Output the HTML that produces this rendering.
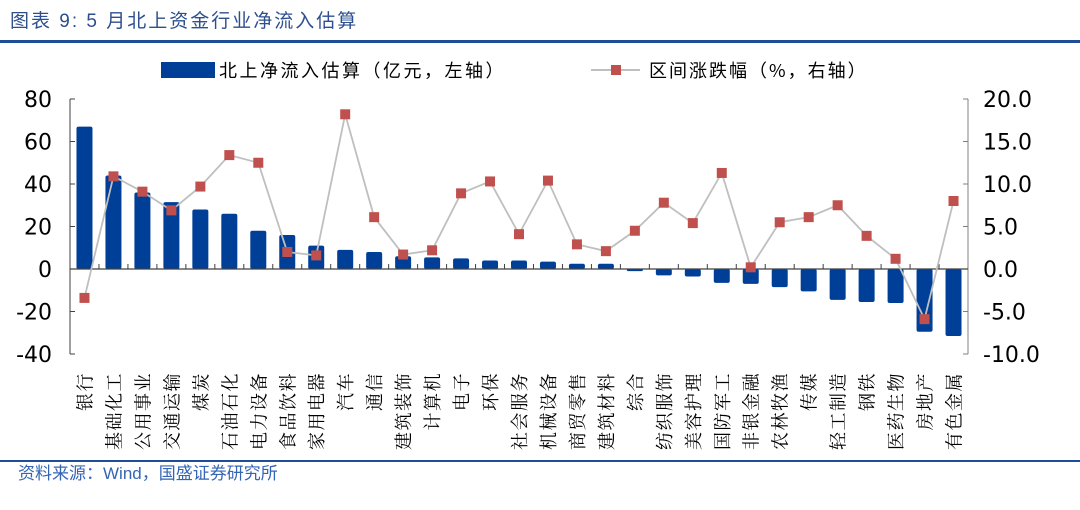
<!DOCTYPE html>
<html><head><meta charset="utf-8"><style>
html,body{margin:0;padding:0;background:#fff;}
body{width:1080px;height:505px;overflow:hidden;font-family:"Liberation Sans","Noto Sans CJK SC",sans-serif;}
</style></head><body>
<svg id="chart" width="1080" height="505" xmlns="http://www.w3.org/2000/svg">
<text x="10" y="27" font-size="19" letter-spacing="2" fill="#2d4f8e" font-family="Liberation Sans, Noto Sans CJK SC, sans-serif">图表 9:  5 月北上资金行业净流入估算</text>
<rect x="0" y="40" width="1080" height="3" fill="#1f4e99"/>
<g>
<rect x="161" y="62" width="54" height="16" fill="#003f98"/>
<text x="219" y="77" font-size="18" letter-spacing="2.5" fill="#000" font-family="Noto Sans CJK SC, sans-serif">北上净流入估算（亿元，左轴）</text>
<line x1="591" y1="70" x2="640" y2="70" stroke="#bfbfbf" stroke-width="2"/>
<rect x="611" y="65" width="10" height="10" fill="#c0504d"/>
<text x="649" y="77" font-size="18" letter-spacing="2" fill="#000" font-family="Noto Sans CJK SC, sans-serif">区间涨跌幅（%，右轴）</text>
</g>
<g id="plot"></g>
<rect x="0" y="460" width="1080" height="2" fill="#1f4e99"/>
<text x="18" y="479" font-size="17" fill="#3465b5" font-family="Liberation Sans, Noto Sans CJK SC, sans-serif">资料来源：Wind，国盛证券研究所</text>
</svg>
<script>
const categories=["银行","基础化工","公用事业","交通运输","煤炭","石油石化","电力设备","食品饮料","家用电器","汽车","通信","建筑装饰","计算机","电子","环保","社会服务","机械设备","商贸零售","建筑材料","综合","纺织服饰","美容护理","国防军工","非银金融","农林牧渔","传媒","轻工制造","钢铁","医药生物","房地产","有色金属"];
const inflow=[67,44,36,31.5,28,26,18,16,11,9,8,6,5.5,5,4,4,3.5,2.5,2.5,-1,-3,-3.5,-6.5,-7,-8.5,-10.5,-14.5,-15.5,-16,-29.5,-31.5];
const change=[-3.4,10.9,9.1,6.9,9.7,13.4,12.5,2.0,1.6,18.2,6.1,1.7,2.2,8.9,10.3,4.1,10.4,2.9,2.1,4.5,7.8,5.4,11.3,0.2,5.5,6.1,7.5,3.9,1.2,-5.9,8.0];
const leftTicks=[80,60,40,20,0,-20,-40];
const rightTicks=["20.0","15.0","10.0","5.0","0.0","-5.0","-10.0"];
const NS="http://www.w3.org/2000/svg";
const g=document.getElementById('plot');
const X0=70,X1=968,YT=99,YB=354;
const yL=v=>YT+(80-v)/120*(YB-YT);
const yR=v=>YT+(20-v)/30*(YB-YT);
const step=(X1-X0)/categories.length;
const xc=i=>X0+step*(i+0.5);
function mk(t,a){const e=document.createElementNS(NS,t);for(const k in a)e.setAttribute(k,a[k]);g.appendChild(e);return e;}
let e;
e=mk('line',{x1:X0,y1:YT,x2:X0,y2:YB,stroke:'#404040','stroke-width':1});


e=mk('line',{x1:X1,y1:YT,x2:X1,y2:YB,stroke:'#808080','stroke-width':1});


leftTicks.forEach(v=>{
 const y=yL(v);
 e=mk('line',{x1:X0,y1:y,x2:X0+5,y2:y,stroke:'#404040'});
 
 
 e=mk('text',{x:X0-18,y:y+8,'text-anchor':'end','font-size':22,fill:'#000','font-family':'DejaVu Sans, sans-serif'});
 e.textContent=v;
 
 
});
rightTicks.forEach(s=>{
 const y=yR(parseFloat(s));
 e=mk('line',{x1:X1-5,y1:y,x2:X1,y2:y,stroke:'#808080'});
 
 
 e=mk('text',{x:X1+15,y:y+8,'font-size':22,fill:'#000','font-family':'DejaVu Sans, sans-serif'});
 e.textContent=s;
 
 
});
inflow.forEach((v,i)=>{
 const y0=yL(0),y=yL(v);
 e=mk('rect',{x:xc(i)-8,y:Math.min(y,y0),width:16,height:Math.max(1,Math.abs(y-y0)),rx:2,fill:'#003f98'});
 
 
});
e=mk('line',{x1:X0,y1:yL(0),x2:X1,y2:yL(0),stroke:'#404040','stroke-width':1.2});


for(let i=1;i<categories.length;i++){
 e=mk('line',{x1:X0+step*i,y1:yL(0)-5,x2:X0+step*i,y2:yL(0),stroke:'#404040'});
 
 
}
e=mk('polyline',{points:change.map((v,i)=>xc(i)+','+yR(v)).join(' '),fill:'none',stroke:'#bfbfbf','stroke-width':1.8});


change.forEach((v,i)=>{
 e=mk('rect',{x:xc(i)-5,y:yR(v)-5,width:10,height:10,fill:'#c0504d'});
 
 
});
categories.forEach((c,i)=>{
 const x=xc(i)+7;
 e=mk('text',{x:0,y:0,transform:'translate('+x+',372) rotate(-90)','text-anchor':'end','font-size':18,'letter-spacing':1.5,fill:'#000','font-family':'Noto Serif CJK SC, serif'});
 e.textContent=c;
 
 
});
</script>
</body></html>
